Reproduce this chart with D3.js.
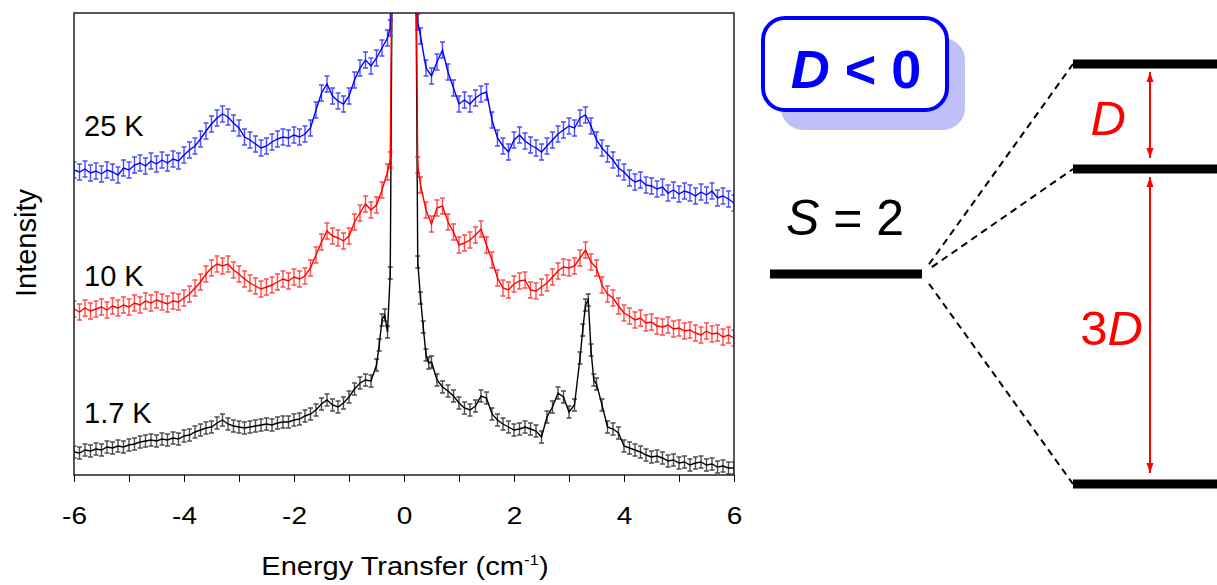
<!DOCTYPE html>
<html>
<head>
<meta charset="utf-8">
<script src="https://cdn.jsdelivr.net/npm/d3@7"></script>
<style>
  body { margin: 0; background: #fff; }
  svg { display: block; font-family: "Liberation Sans", Arial, sans-serif; }
</style>
</head>
<body>
<div id="chart"></div>
<script>
// ---------- data (energy in cm-1, intensity in arb. units) ----------
const energyWarm = [
  -6.0,-5.9,-5.8,-5.7,-5.6,-5.5,-5.4,-5.3,-5.2,-5.1,
  -5.0,-4.9,-4.8,-4.7,-4.6,-4.5,-4.4,-4.3,-4.2,-4.1,
  -4.0,-3.9,-3.8,-3.7,-3.6,-3.5,-3.4,-3.3,-3.2,-3.1,
  -3.0,-2.9,-2.8,-2.7,-2.6,-2.5,-2.4,-2.3,-2.2,-2.1,
  -2.0,-1.9,-1.8,-1.7,-1.6,-1.5,-1.4,-1.3,-1.2,-1.1,
  -1.0,-0.9,-0.8,-0.7,-0.6,-0.5,-0.4,-0.3,
  -0.25,-0.2,0,0.2,0.25,
  0.3,0.4,0.5,0.6,0.7,0.8,0.9,
  1.0,1.1,1.2,1.3,1.4,1.5,1.6,1.7,1.8,1.9,
  2.0,2.1,2.2,2.3,2.4,2.5,2.6,2.7,2.8,2.9,
  3.0,3.1,3.2,3.3,3.4,3.5,3.6,3.7,3.8,3.9,
  4.0,4.1,4.2,4.3,4.4,4.5,4.6,4.7,4.8,4.9,
  5.0,5.1,5.2,5.3,5.4,5.5,5.6,5.7,5.8,5.9,
  6.0
];

const intensity25K = [
  152.5,151.5,153,151,152,150.5,152.5,151.5,150,153.5,
  152.5,155,156,154.5,157,155.5,157.5,156,158,157,
  160,162.5,164.5,168,172,175.5,178.5,180.5,179,176,
  173.5,169,167.5,165.5,163.5,164.5,166.5,168,169,168.5,
  170,169,170.5,173.5,182.5,191,195.5,189.5,187,185.5,
  189.5,197.5,203.5,207.5,204.5,208.5,213.5,218.5,
  223.5,320,1000,320,226.5,
  219.5,203.5,199.5,206.5,212.5,201.5,193.5,
  185.5,187.5,185.5,188.5,190.5,191.5,177.5,168.5,164.5,161.5,
  167.5,170,167,165,163.5,161.5,164.5,167.5,170.5,172.5,
  174.5,173.5,178.5,180,174.5,167.5,163.5,160.5,157.5,153.5,
  151.5,148.5,146.5,147.5,145,144.5,143,144,141,142.5,
  140.5,142,141,139.5,141.5,140,142,138.5,139.5,138,
  136
];

const intensity10K = [
  83,81.5,83.5,82,83,84,82.5,84.5,83.5,85,
  84,86,85,87,86,87.5,86.5,85.5,87,86.5,
  88.5,90.5,93.5,96.5,100.5,103.5,105.5,104.5,105.5,102.5,
  100.5,98,96,94.5,93,94,95,96.5,98,97,
  99,98,99.5,103.5,110,116.5,122,119.5,118.5,117,
  119.5,126.5,131,135.5,132.5,135,142.5,151.5,
  157.5,320,1000,320,155,
  145,132.5,125.5,133.5,134.5,126.5,121.5,
  115,116,117.5,120,123,115,107.5,98.5,93.5,92.5,
  95.5,97,97.5,92.5,92,94,96,99,102,104,
  103.5,104.5,108.5,112.5,106.5,103.5,95,90.5,88.5,84.5,
  81,79.5,77.5,78.5,76,76.5,74.5,74,75,73,
  73.5,72,72.5,71,70,72,70.5,71,69,70,
  68.5
];

const energyCold = [
  -6.0,-5.9,-5.8,-5.7,-5.6,-5.5,-5.4,-5.3,-5.2,-5.1,
  -5.0,-4.9,-4.8,-4.7,-4.6,-4.5,-4.4,-4.3,-4.2,-4.1,
  -4.0,-3.9,-3.8,-3.7,-3.6,-3.5,-3.4,-3.3,-3.2,-3.1,
  -3.0,-2.9,-2.8,-2.7,-2.6,-2.5,-2.4,-2.3,-2.2,-2.1,
  -2.0,-1.9,-1.8,-1.7,-1.6,-1.5,-1.4,-1.3,-1.2,-1.1,
  -1.0,-0.9,-0.8,-0.7,-0.6,-0.5,
  -0.45,-0.4,-0.35,-0.3,-0.25,-0.2,0,0.2,0.25,0.3,0.35,0.4,0.45,0.5,
  0.6,0.7,0.8,0.9,
  1.0,1.1,1.2,1.3,1.4,1.5,1.6,1.7,1.8,1.9,
  2.0,2.1,2.2,2.3,2.4,2.5,2.6,2.7,2.8,2.9,
  3.0,3.1,3.2,3.25,3.3,3.35,3.4,3.45,3.5,3.6,3.7,3.8,3.9,
  4.0,4.1,4.2,4.3,4.4,4.5,4.6,4.7,4.8,4.9,
  5.0,5.1,5.2,5.3,5.4,5.5,5.6,5.7,5.8,5.9,
  6.0
];

const intensity1p7K = [
  11.5,11,12.5,12,13,12.5,14,13.5,14.5,14,
  15,15.5,16.5,17,17.5,17,18,17.5,18.5,18,
  19.5,20,21.5,22.5,23.5,24,26,27.5,25.5,24.5,
  24,23.5,24,24.5,25,25.5,25,26,26.5,26.5,
  27.5,28,29.5,30.5,32.5,35.5,37.5,35,34,36,
  39,43,46,47.5,47,55,
  65,77.5,80,71.5,101,320,1000,320,106.5,88.5,74,60,56,56.5,
  47.5,44,42,39.5,
  36,33.5,32.5,34.5,39.5,38.5,30.5,27.5,25.5,24,
  22.5,23,24,23,22,19,29,34,41,39,
  31.5,35,58.5,72.5,85,87.5,62.5,47.5,45.5,35,24,23,21,
  14.5,13.5,12.5,11.5,10,9,9.5,8.5,7,7.5,
  6,6.5,5,6,6.5,5,5.5,4,4.5,3.5,
  3.5
];

const seriesNames = ["1.7 K", "25 K", "10 K"];
const seriesErrors = [3, 4, 4];
const seriesColors = ["#000000", "#0000ff", "#ff0000"];

const xTicksMajor = [-6, -4, -2, 0, 2, 4, 6];
const xTicksMinor = [-5, -3, -1, 1, 3, 5];

// energy-level diagram, S = 2 with D < 0 (energies in units of |D|)
const levelEnergies = [0, -1, -4];
const groundEnergy = -2;
const gaps = [
  {from: 0, to: -1, label: "D", prefix: ""},
  {from: -1, to: -4, label: "D", prefix: "3"}
];

// ---------- layout ----------
const width = 1217;
const height = 585;
const plot = {left: 74, top: 13, right: 734, bottom: 475};

const svg = d3.select("#chart")
  .append("svg")
    .attr("width", width)
    .attr("height", height);

const xScale = d3.scaleLinear()
  .domain([-6, 6])
  .range([plot.left, plot.right]);

const yScale = d3.scaleLinear()
  .domain([0, 231])
  .range([plot.bottom, plot.top]);

svg.append("defs")
  .append("clipPath")
    .attr("id", "plot-clip")
  .append("rect")
    .attr("x", plot.left)
    .attr("y", plot.top)
    .attr("width", plot.right - plot.left)
    .attr("height", plot.bottom - plot.top);

// ---------- series ----------
const series = [
  {name: seriesNames[0], energy: energyCold, values: intensity1p7K, err: seriesErrors[0], color: seriesColors[0]},
  {name: seriesNames[1], energy: energyWarm, values: intensity25K, err: seriesErrors[1], color: seriesColors[1]},
  {name: seriesNames[2], energy: energyWarm, values: intensity10K, err: seriesErrors[2], color: seriesColors[2]}
];

const line = d3.line()
  .x(d => xScale(d[0]))
  .y(d => yScale(d[1]));

const dataLayer = svg.append("g").attr("clip-path", "url(#plot-clip)");

series.forEach(s => {
  const pts = s.energy.map((e, i) => [e, s.values[i]]);
  const g = dataLayer.append("g");

  // error bars with caps
  let bars = "";
  pts.forEach(p => {
    const x = xScale(p[0]);
    const y1 = yScale(p[1] - s.err);
    const y2 = yScale(p[1] + s.err);
    bars += `M${x},${y1}V${y2}M${x - 2.5},${y1}h5M${x - 2.5},${y2}h5`;
  });
  g.append("path")
    .attr("d", bars)
    .attr("fill", "none")
    .attr("stroke", s.color)
    .attr("stroke-opacity", 0.7)
    .attr("stroke-width", 1.4);

  g.append("path")
    .datum(pts)
    .attr("d", line)
    .attr("fill", "none")
    .attr("stroke", s.color)
    .attr("stroke-width", 1.4);
});

// ---------- frame and axes ----------
svg.append("rect")
  .attr("x", plot.left)
  .attr("y", plot.top)
  .attr("width", plot.right - plot.left)
  .attr("height", plot.bottom - plot.top)
  .attr("fill", "none")
  .attr("stroke", "#222")
  .attr("stroke-width", 1.5);

// text in the source is a little flattened: tall fonts squeezed vertically
const flatten = 0.88;

const bottomAxis = d3.axisBottom(xScale)
  .tickValues(xTicksMajor)
  .tickSize(7)
  .tickSizeOuter(0)
  .tickFormat(d => String(d));
const axisG = svg.append("g")
  .attr("transform", `translate(0, ${plot.bottom})`)
  .call(bottomAxis);
axisG.select(".domain").remove();
axisG.selectAll("text")
  .attr("font-family", "Liberation Sans, Arial, sans-serif")
  .attr("font-size", 28)
  .attr("fill", "#000")
  .attr("dy", null)
  .attr("y", 49 / flatten)
  .attr("transform", `scale(1, ${flatten})`);

const minorAxis = d3.axisBottom(xScale)
  .tickValues(xTicksMinor)
  .tickSize(7)
  .tickSizeOuter(0)
  .tickFormat("");
svg.append("g")
  .attr("transform", `translate(0, ${plot.bottom})`)
  .call(minorAxis)
  .select(".domain").remove();

const xTitle = svg.append("text")
  .attr("transform", `translate(${(plot.left + plot.right) / 2 + 1}, 575) scale(1, ${flatten - 0.01})`)
  .attr("text-anchor", "middle")
  .attr("font-size", 29);
xTitle.append("tspan").text("Energy Transfer (cm");
xTitle.append("tspan").attr("dy", -12).attr("font-size", 17).text("-1");
xTitle.append("tspan").attr("dy", 12).text(")");

svg.append("text")
  .attr("transform", "translate(36, 243) rotate(-90)")
  .attr("text-anchor", "middle")
  .attr("font-size", 29)
  .text("Intensity");

// series labels
const labelY = {"25 K": 136, "10 K": 286, "1.7 K": 423};
series.forEach(s => {
  svg.append("text")
    .attr("x", 84)
    .attr("y", labelY[s.name])
    .attr("font-size", 29)
    .attr("fill", "#000")
    .text(s.name);
});

// ---------- energy-level diagram ----------
const levelScale = d3.scaleLinear()
  .domain([0, -4])
  .range([64, 484]);

const diagram = svg.append("g");

// D < 0 badge
diagram.append("rect")
  .attr("x", 781).attr("y", 38)
  .attr("width", 184).attr("height", 92)
  .attr("rx", 22)
  .attr("fill", "#bfbffa");
diagram.append("rect")
  .attr("x", 763).attr("y", 18)
  .attr("width", 184).attr("height", 92)
  .attr("rx", 22)
  .attr("fill", "#fff")
  .attr("stroke", "#0000ff")
  .attr("stroke-width", 4);
const badge = diagram.append("text")
  .attr("x", 856).attr("y", 88)
  .attr("text-anchor", "middle")
  .attr("font-size", 54)
  .attr("font-weight", "bold")
  .attr("fill", "#0000ff");
badge.append("tspan").attr("font-style", "italic").text("D");
badge.append("tspan").text(" < 0");

// S = 2 label and unsplit level
const sLabel = diagram.append("text")
  .attr("x", 786).attr("y", 235)
  .attr("font-size", 50);
sLabel.append("tspan").attr("font-style", "italic").text("S");
sLabel.append("tspan").text(" = 2");

const groundY = levelScale(groundEnergy);
const groundX = [770, 922];
diagram.append("line")
  .attr("x1", groundX[0]).attr("x2", groundX[1])
  .attr("y1", groundY).attr("y2", groundY)
  .attr("stroke", "#000")
  .attr("stroke-width", 9);

// split levels
const splitX = [1073, 1222];
diagram.selectAll(".level")
  .data(levelEnergies)
  .join("line")
    .attr("class", "level")
    .attr("x1", splitX[0]).attr("x2", splitX[1])
    .attr("y1", d => levelScale(d)).attr("y2", d => levelScale(d))
    .attr("stroke", "#000")
    .attr("stroke-width", 9);

// dashed correlation lines
diagram.selectAll(".corr")
  .data(levelEnergies)
  .join("line")
    .attr("class", "corr")
    .each(function(d) {
      const x0 = groundX[1], y0 = groundY;
      const x1 = splitX[0], y1 = levelScale(d);
      const len = Math.hypot(x1 - x0, y1 - y0);
      const off = 12;
      d3.select(this)
        .attr("x1", x0 + (x1 - x0) * off / len)
        .attr("y1", y0 + (y1 - y0) * off / len)
        .attr("x2", x1).attr("y2", y1);
    })
    .attr("stroke", "#000")
    .attr("stroke-width", 2)
    .attr("stroke-dasharray", "7,5");

// red arrows
svg.select("defs")
  .append("marker")
    .attr("id", "arrow")
    .attr("viewBox", "0 0 10 10")
    .attr("refX", 10).attr("refY", 5)
    .attr("markerWidth", 10).attr("markerHeight", 10)
    .attr("markerUnits", "userSpaceOnUse")
    .attr("orient", "auto-start-reverse")
  .append("path")
    .attr("d", "M0,1.5L10,5L0,8.5Z")
    .attr("fill", "#ff0000");

const arrowX = 1150;
diagram.selectAll(".gap")
  .data(gaps)
  .join("line")
    .attr("class", "gap")
    .attr("x1", arrowX).attr("x2", arrowX)
    .attr("y1", d => levelScale(d.from) + 8)
    .attr("y2", d => levelScale(d.to) - 11)
    .attr("stroke", "#ff0000")
    .attr("stroke-width", 2)
    .attr("marker-start", "url(#arrow)")
    .attr("marker-end", "url(#arrow)");

const labelEndX = [1126, 1143];
gaps.forEach((d, i) => {
  const t = diagram.append("text")
    .attr("x", labelEndX[i])
    .attr("y", (levelScale(d.from) + levelScale(d.to)) / 2 + 18)
    .attr("text-anchor", "end")
    .attr("font-size", 49)
    .attr("fill", "#ff0000");
  if (d.prefix) t.append("tspan").text(d.prefix);
  t.append("tspan").attr("font-style", "italic").text(d.label);
});
</script>
</body>
</html>
